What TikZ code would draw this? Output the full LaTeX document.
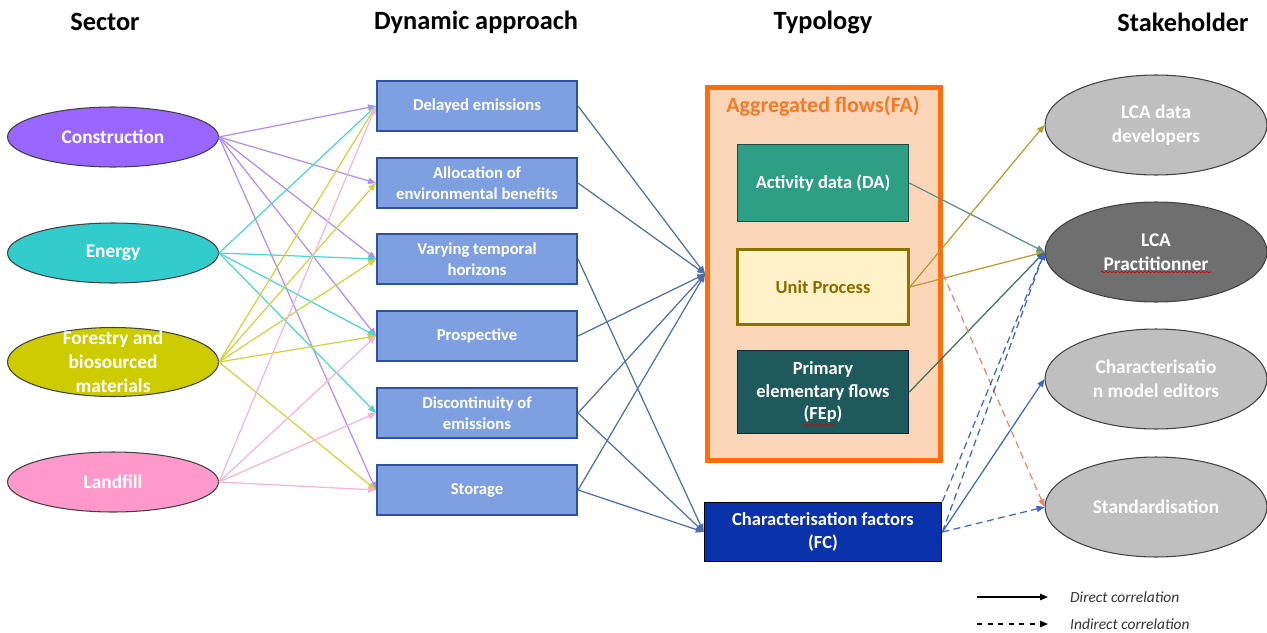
\documentclass[tikz,border=0pt]{standalone}
\usepackage{fontspec}
\setmainfont{Carlito}
\usetikzlibrary{shapes.geometric,arrows.meta,decorations.pathmorphing}

\definecolor{consF}{HTML}{9966FF}\definecolor{consL}{HTML}{B08CF8}
\definecolor{enerF}{HTML}{33CCCC}\definecolor{enerL}{HTML}{4DD4D4}
\definecolor{forF}{HTML}{CCCC00}\definecolor{forL}{HTML}{D2D23C}
\definecolor{landF}{HTML}{FF99CC}\definecolor{landL}{HTML}{F7B5D6}
\definecolor{dynF}{HTML}{7FA0E0}\definecolor{dynB}{HTML}{2F52A0}
\definecolor{dynL}{HTML}{4E6EA8}
\definecolor{faF}{HTML}{FBD5B8}\definecolor{faB}{HTML}{FF6E0A}
\definecolor{faT}{HTML}{F47A28}
\definecolor{daF}{HTML}{2E9E84}\definecolor{daB}{HTML}{1E4E42}
\definecolor{upF}{HTML}{FFF2C8}\definecolor{upB}{HTML}{8B7200}
\definecolor{upT}{HTML}{8B6A00}
\definecolor{pefF}{HTML}{1E5A5C}\definecolor{pefB}{HTML}{14233C}
\definecolor{fcF}{HTML}{0A32AA}
\definecolor{daL}{HTML}{5C9086}\definecolor{upL}{HTML}{B89A30}
\definecolor{pefL}{HTML}{3F6F5F}\definecolor{fcL}{HTML}{3C64C8}
\definecolor{redL}{HTML}{F08270}
\definecolor{stakeF}{HTML}{BFBFBF}\definecolor{pracF}{HTML}{6F6F6F}

\tikzset{
  arr/.style={line width=0.7pt,-{Triangle[length=4.5pt,width=3.6pt]}},
  indirect/.style={dash pattern=on 4pt off 2.5pt},
  hdr/.style={font=\bfseries\fontsize{15}{18}\selectfont},
  sector/.style={ellipse,draw=black!75,line width=0.6pt,minimum width=4.22cm,
    minimum height=1.2cm,inner sep=0pt,text=white,align=center,
    font=\bfseries\fontsize{11}{13.5}\selectfont},
  sectortxt/.style={text=white,align=center,font=\bfseries\fontsize{11}{13.5}\selectfont},
  dynbox/.style={draw=dynB,line width=1.2pt,fill=dynF,minimum width=4.0cm,
    minimum height=1.0cm,inner sep=1pt,text=white,align=center,
    font=\bfseries\fontsize{9.5}{11.8}\selectfont},
  typbox/.style={draw,line width=1pt,minimum width=3.42cm,minimum height=1.5cm,
    inner sep=1pt,text=white,align=center,font=\bfseries\fontsize{10.5}{13}\selectfont},
  stake/.style={ellipse,draw=black!75,line width=0.6pt,fill=stakeF,minimum width=4.44cm,
    minimum height=2.0cm,inner sep=0pt,text=white,align=center,
    font=\bfseries\fontsize{11}{13.5}\selectfont},
  spell/.style={red!85!black,line width=0.4pt,decorate,
    decoration={snake,amplitude=0.45pt,segment length=2.2pt}},
  legtxt/.style={anchor=west,text=black!80,font=\itshape\fontsize{8.8}{10}\selectfont}
}

\begin{document}
\begin{tikzpicture}[x=0.02cm,y=-0.02cm]
\useasboundingbox (0,0) rectangle (1267,632);

% column titles
\node[hdr] (hsec) at (105,22) {Sector};
\node[hdr] (hdyn) at (476,22) {Dynamic approach};
\node[hdr] (htyp) at (823,22) {Typology};
\node[hdr] (hsta) at (1183,22) {Stakeholder};

% sectors
\node[sector,fill=consF] (cons) at (113,137) {Construction};
\node[sector,fill=enerF] (ener) at (113,253) {Energy};
\node[sector,fill=forF,minimum height=1.38cm,
  label={[sectortxt]center:Forestry and\\biosourced\\materials}] (fors) at (113,362) {};
\node[sector,fill=landF] (land) at (113,482) {Landfill};

% dynamic approaches
\node[dynbox] (del) at (477,106) {Delayed emissions};
\node[dynbox] (alloc) at (477,183) {Allocation of\\environmental benefits};
\node[dynbox] (vary) at (477,259) {Varying temporal\\horizons};
\node[dynbox] (prosp) at (477,336) {Prospective};
\node[dynbox] (disc) at (477,413) {Discontinuity of\\emissions};
\node[dynbox] (stor) at (477,490) {Storage};

% typology
\node[draw=faB,line width=2.8pt,fill=faF,minimum width=4.66cm,minimum height=7.46cm] (fa) at (824,274) {};
\node[text=faT,font=\bfseries\fontsize{12.5}{15}\selectfont] (fatitle) at (823,106) {Aggregated flows(FA)};
\node[typbox,fill=daF,draw=daB,minimum height=1.54cm] (da) at (823,183) {Activity data (DA)};
\node[typbox,fill=upF,draw=upB,line width=1.6pt,text=upT] (up) at (823,287) {Unit Process};
\node[typbox,fill=pefF,draw=pefB,minimum height=1.66cm] (pef) at (823,392) {Primary\\elementary flows\\(FEp)};
\node[typbox,fill=fcF,draw=black,minimum width=4.74cm,minimum height=1.18cm] (fc) at (823,532) {Characterisation factors\\(FC)};

% stakeholders
\node[stake] (dev) at (1156,125) {LCA data\\developers};
\node[stake,fill=pracF] (prac) at (1156,252) {LCA\\Practitionner};
\node[stake] (edit) at (1156,379) {Characterisatio\\n model editors};
\node[stake] (std) at (1156,507) {Standardisation};

% spelling marks
\draw[spell] (1101,272) -- (1211,272);
\draw[spell] (804,425) -- (836,425);

% sector -> dynamic approach
\foreach \t in {del,alloc,vary,prosp,stor}
  \draw[arr,consL] (cons.east) -- (\t.west);
\foreach \t in {del,vary,prosp,disc}
  \draw[arr,enerL] (ener.east) -- (\t.west);
\foreach \t in {del,alloc,vary,prosp,stor}
  \draw[arr,forL] (fors.east) -- (\t.west);
\foreach \t in {del,prosp,disc,stor}
  \draw[arr,landL] (land.east) -- (\t.west);

% dynamic approach -> typology
\foreach \t in {del,alloc,prosp,disc,stor}
  \draw[arr,dynL] (\t.east) -- (fa.west);
\foreach \t in {vary,disc,stor}
  \draw[arr,dynL] (\t.east) -- (fc.west);

% typology -> stakeholder
\draw[arr,daL] (da.east) -- (prac.west);
\draw[arr,upL] (up.east) -- (dev.west);
\draw[arr,upL] (up.east) -- (prac.west);
\draw[arr,pefL] (pef.east) -- (prac.west);
\draw[arr,redL,indirect] (fa.east) -- (std.west);
\draw[arr,fcL,indirect] (fc.east) -- (prac.west);
\draw[arr,fcL,indirect] (fc.north east) -- (prac.west);
\draw[arr,fcL] (fc.east) -- (edit.west);
\draw[arr,fcL,indirect] (fc.east) -- (std.west);

% legend
\coordinate (lda) at (977,597);
\coordinate (ldb) at (1048,597);
\coordinate (lia) at (977,624);
\coordinate (lib) at (1048,624);
\draw[arr,black] (lda) -- (ldb);
\draw[arr,black,dashed] (lia) -- (lib);
\node[legtxt] (ldt) at (1064,597) {Direct correlation};
\node[legtxt] (lit) at (1064,624) {Indirect correlation};
\end{tikzpicture}
\end{document}
